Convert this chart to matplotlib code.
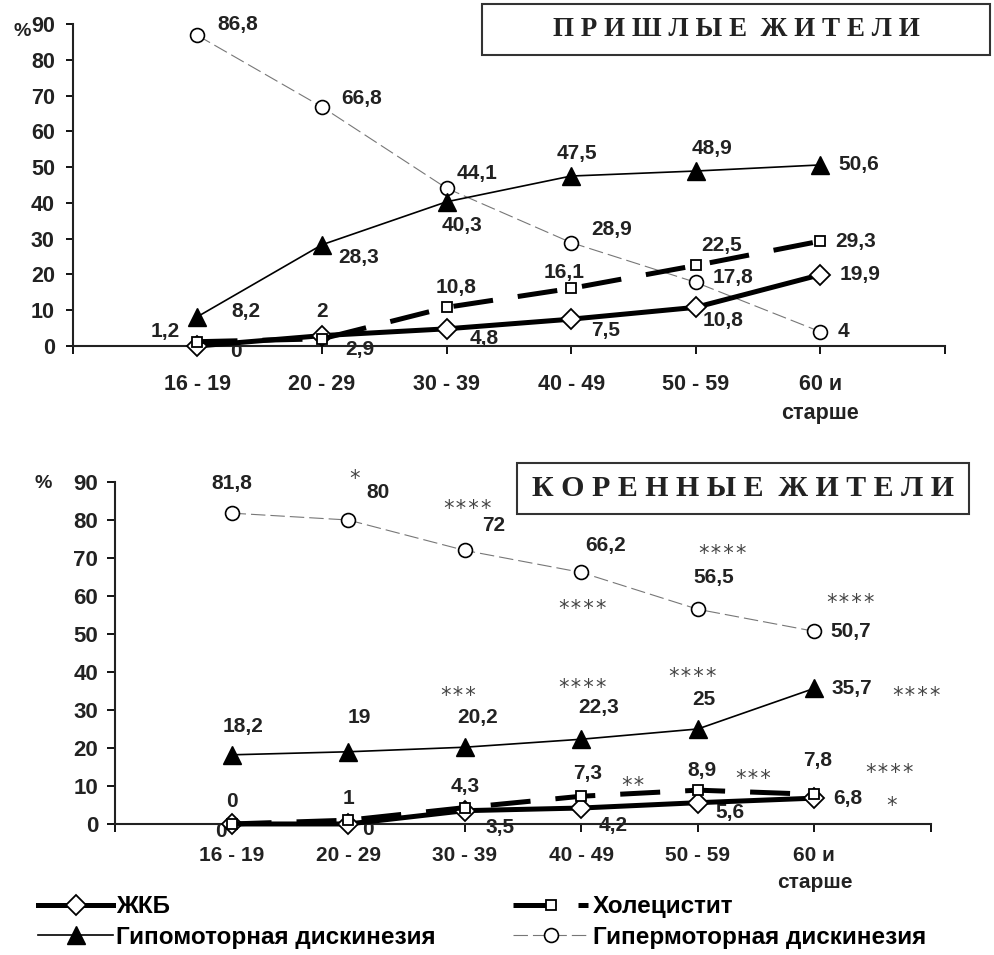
import matplotlib
matplotlib.use("Agg")
import matplotlib.pyplot as plt
from matplotlib.patches import Rectangle

plt.rcParams["font.family"] = ["Liberation Sans", "DejaVu Sans"]
plt.rcParams["font.weight"] = "bold"

ages = ["16 - 19", "20 - 29", "30 - 39", "40 - 49", "50 - 59", "60 и\nстарше"]
series_names = ["ЖКБ", "Холецистит", "Гипомоторная дискинезия", "Гипермоторная дискинезия"]

# пришлые жители
top_gsd = [0, 2.9, 4.8, 7.5, 10.8, 19.9]
top_chol = [1.2, 2, 10.8, 16.1, 22.5, 29.3]
top_hypo = [8.2, 28.3, 40.3, 47.5, 48.9, 50.6]
top_hyper = [86.8, 66.8, 44.1, 28.9, 17.8, 4]

# коренные жители
bot_gsd = [0, 0, 3.5, 4.2, 5.6, 6.8]
bot_chol = [0, 1, 4.3, 7.3, 8.9, 7.8]
bot_hypo = [18.2, 19, 20.2, 22.3, 25, 35.7]
bot_hyper = [81.8, 80, 72, 66.2, 56.5, 50.7]

# significance marks (bottom chart only)
bot_gsd_sig = ["", "", "", "", "", "*"]
bot_chol_sig = ["", "", "", "**", "***", "****"]
bot_hypo_sig = ["", "", "***", "****", "****", "****"]
bot_hyper_sig = ["", "*", "****", "****", "****", "****"]

# label offsets in pixels (dx, dy, ha)
top_off = {
    "gsd": [(38, -6, "center"), (23, -14, "left"), (23, -10, "left"), (20, -11, "left"), (7, -13, "left"), (19, 0, "left")],
    "chol": [(-18, 10, "right"), (0, 27, "center"), (10, 20, "center"), (-7, 16, "center"), (26, 20, "center"), (15, 0, "left")],
    "hypo": [(34, 5, "left"), (16, -13, "left"), (15, -24, "center"), (6, 23, "center"), (16, 23, "center"), (18, 0, "left")],
    "hyper": [(20, 11, "left"), (19, 8, "left"), (10, 15, "left"), (20, 13, "left"), (17, 5, "left"), (17, 0, "left")],
}
bot_off = {
    "gsd": [(-11, -8, "center"), (20, -6, "center"), (35, -17, "center"), (32, -17, "center"), (32, -10, "center"), (19, 0, "left")],
    "chol": [(0, 22, "center"), (0, 22, "center"), (0, 21, "center"), (6, 23, "center"), (4, 20, "center"), (3, 34, "center")],
    "hypo": [(11, 28, "center"), (11, 34, "center"), (13, 30, "center"), (17, 32, "center"), (6, 29, "center"), (17, 0, "left")],
    "hyper": [(0, 30, "center"), (30, 27, "center"), (17, 25, "left"), (24, 27, "center"), (16, 32, "center"), (16, 0, "left")],
}
bot_sig_off = {
    "gsd": [None] * 5 + [(77, -2)],
    "chol": [None] * 3 + [(52, 16), (55, 17), (75, 27)],
    "hypo": [None] * 2 + [(-7, 57), (1, 57), (-5, 58), (102, -2)],
    "hyper": [None, (6, 47), (3, 47), (1, -31), (25, 61), (36, 34)],
}

styles = {
    "gsd": dict(color="black", lw=3.6, marker="D", ms=10, mfc="white", mec="black", mew=1.3, zorder=4),
    "chol": dict(color="black", lw=3.6, dashes=(8, 5), marker="s", ms=7.5, mfc="white", mec="black", mew=1.3, zorder=5),
    "hypo": dict(color="black", lw=1.2, marker="^", ms=13, mfc="black", mec="black", zorder=3),
    "hyper": dict(color="#777777", lw=0.8, dashes=(13, 4.5), marker="o", ms=10, mfc="white", mec="black", mew=1.2, zorder=2),
}

fmt = lambda v: f"{v:g}".replace(".", ",")


def draw_panel(ax, data, offs, fs_lab, sig=None, sig_off=None):
    x = list(range(1, len(ages) + 1))
    handles = {}
    for key in ["hyper", "hypo", "gsd", "chol"]:
        (ln,) = ax.plot(x, data[key], clip_on=False, **styles[key])
        handles[key] = ln
        for xi, v, (dx, dy, ha) in zip(x, data[key], offs[key]):
            ax.annotate(fmt(v), (xi, v), xytext=(dx, dy), textcoords="offset pixels",
                        ha=ha, va="center", fontsize=fs_lab, fontweight="bold", color="#222222")
        if sig:
            for xi, v, s, o in zip(x, data[key], sig[key], sig_off[key]):
                if s and o:
                    ax.annotate(s, (xi, v), xytext=(o[0], o[1] - 6), textcoords="offset pixels",
                                ha="center", va="center", fontsize=15, fontweight="normal",
                                family="DejaVu Sans Mono", color="#444444")
    ax.set_xlim(0, 7)
    ax.set_ylim(0, 90)
    ax.set_yticks(range(0, 91, 10))
    ax.set_xticks(range(0, 8))
    ax.set_xticklabels([""] + ages + [""])
    for s in ["top", "right"]:
        ax.spines[s].set_visible(False)
    for s in ["left", "bottom"]:
        ax.spines[s].set_linewidth(1.5)
        ax.spines[s].set_color("#222222")
    for t in ax.get_xticklabels():
        t.set_linespacing(1.5)
        t.set_color("#222222")
    for t in ax.get_yticklabels():
        t.set_color("#222222")
    return handles


fig = plt.figure(figsize=(9.94, 9.55), dpi=100)

ax1 = fig.add_axes([0.0734, 0.6377, 0.877, 0.3372])
h = draw_panel(ax1, dict(gsd=top_gsd, chol=top_chol, hypo=top_hypo, hyper=top_hyper), top_off, 15)
ax1.tick_params(axis="y", length=5, width=1.3, pad=8, labelsize=15.5)
ax1.tick_params(axis="x", length=6, width=1.3, pad=14, labelsize=15.5)
fig.text(22 / 994, 1 - 31 / 955, "%", ha="center", va="center", fontsize=14, fontweight="bold",
         color="#222222")

ax2 = fig.add_axes([0.1157, 0.1372, 0.8209, 0.3581])
draw_panel(ax2, dict(gsd=bot_gsd, chol=bot_chol, hypo=bot_hypo, hyper=bot_hyper), bot_off, 15,
           dict(gsd=bot_gsd_sig, chol=bot_chol_sig, hypo=bot_hypo_sig, hyper=bot_hyper_sig), bot_sig_off)
ax2.tick_params(axis="y", length=6, width=1.3, pad=6, labelsize=16)
ax2.tick_params(axis="x", length=6, width=1.3, pad=10, labelsize=15)
fig.text(43 / 994, 1 - 484 / 955, "%", ha="center", va="center", fontsize=14, fontweight="bold",
         color="#222222")

# title boxes
for (x0, y0, x1, y1), title, fs in [((482, 4, 990, 55), "П Р И Ш Л Ы Е  Ж И Т Е Л И", 19.5),
                                    ((517, 463, 969, 514), "К О Р Е Н Н Ы Е  Ж И Т Е Л И", 21.5)]:
    fig.patches.append(Rectangle((x0 / 994, 1 - y1 / 955), (x1 - x0) / 994, (y1 - y0) / 955,
                                 transform=fig.transFigure, fill=False, lw=1.5, ec="#333333"))
    fig.text((x0 + x1) / 2 / 994, 1 - (y0 + y1) / 2 / 955, title, ha="center", va="center",
             fontsize=fs, fontweight="bold", family="Liberation Serif", color="#222222")

# legend in two columns
leg_kw = dict(loc="center left", frameon=False, handlelength=3.1, labelspacing=0.3,
              borderpad=0, borderaxespad=0, prop=dict(size=17.5, weight="bold"))
fig.legend([h["gsd"], h["hypo"]], [series_names[0], series_names[2]],
           bbox_to_anchor=(38 / 994, 1 - 922 / 955), handletextpad=0.1, **leg_kw)
fig.legend([h["chol"], h["hyper"]], [series_names[1], series_names[3]],
           bbox_to_anchor=(513 / 994, 1 - 922 / 955), handletextpad=0.2, **leg_kw)

fig.savefig("out.png", dpi=100)
